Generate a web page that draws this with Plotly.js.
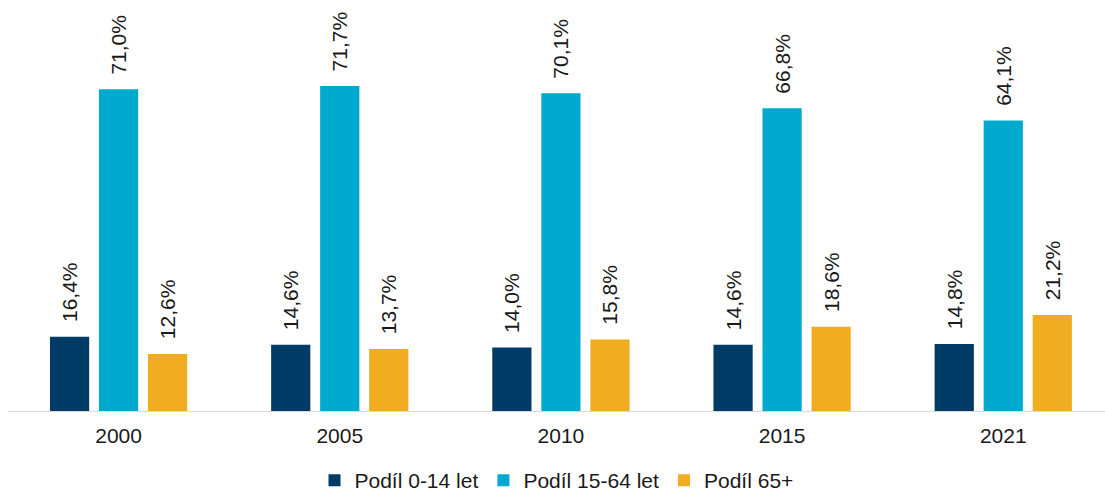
<!DOCTYPE html>
<html>
<head>
<meta charset="utf-8">
<script src="https://cdn.plot.ly/plotly-3.0.1.min.js"></script>
<style>
    html, body { margin: 0; padding: 0; background: #ffffff; overflow: hidden; }
    #chart { width: 1105px; height: 501px; }
</style>
</head>
<body>
<div id="chart"></div>
<script>
let years = ["2000", "2005", "2010", "2015", "2021"];
let young = [16.4, 14.6, 14.0, 14.6, 14.8];
let working = [71.0, 71.7, 70.1, 66.8, 64.1];
let old = [12.6, 13.7, 15.8, 18.6, 21.2];

// leading non-breaking spaces push the rotated label away from the bar top
function labels(values) {
    return values.map(v => "\u00a0\u00a0" + v.toFixed(1).replace(".", ",") + "%");
}

function makeTrace(values, name, color) {
    return {
        x: years,
        y: values,
        type: "bar",
        name: name,
        marker: { color: color },
        text: labels(values),
        textposition: "outside",
        textangle: -90,
        constraintext: "none",
        cliponaxis: false,
        textfont: { family: "Liberation Sans, Arial, sans-serif", size: 21, color: "#1a1a1a" },
        hoverinfo: "none"
    };
}

let traces = [
    makeTrace(young, "Podíl 0-14 let", "#003b66"),
    makeTrace(working, "Podíl 15-64 let", "#00aacf"),
    makeTrace(old, "Podíl 65+", "#f0ad22")
];

// figure is a little taller than the window so the legend sits lower
let layout = {
    width: 1105,
    height: 501,
    margin: { l: 8, r: 0, t: 0, b: 90 },
    paper_bgcolor: "#ffffff",
    plot_bgcolor: "#ffffff",
    barmode: "group",
    bargap: 0.335,
    bargroupgap: 0.2,
    font: { family: "Liberation Sans, Arial, sans-serif", size: 21, color: "#1a1a1a" },
    xaxis: {
        type: "category",
        range: [-0.5, 4.46],
        showline: true,
        linecolor: "#d9d9d9",
        linewidth: 1,
        ticks: "",
        ticklabelstandoff: 6,
        tickfont: { size: 21, color: "#1a1a1a" },
        fixedrange: true
    },
    yaxis: {
        range: [0, 90.7],
        visible: false,
        showgrid: false,
        zeroline: false,
        fixedrange: true
    },
    showlegend: true,
    legend: {
        orientation: "h",
        x: 0.5,
        xanchor: "center",
        yref: "container",
        y: 0,
        yanchor: "bottom",
        font: { size: 21, color: "#1a1a1a" },
        itemwidth: 30
    }
};

Plotly.newPlot("chart", traces, layout, { displayModeBar: false, staticPlot: true });
</script>
</body>
</html>
